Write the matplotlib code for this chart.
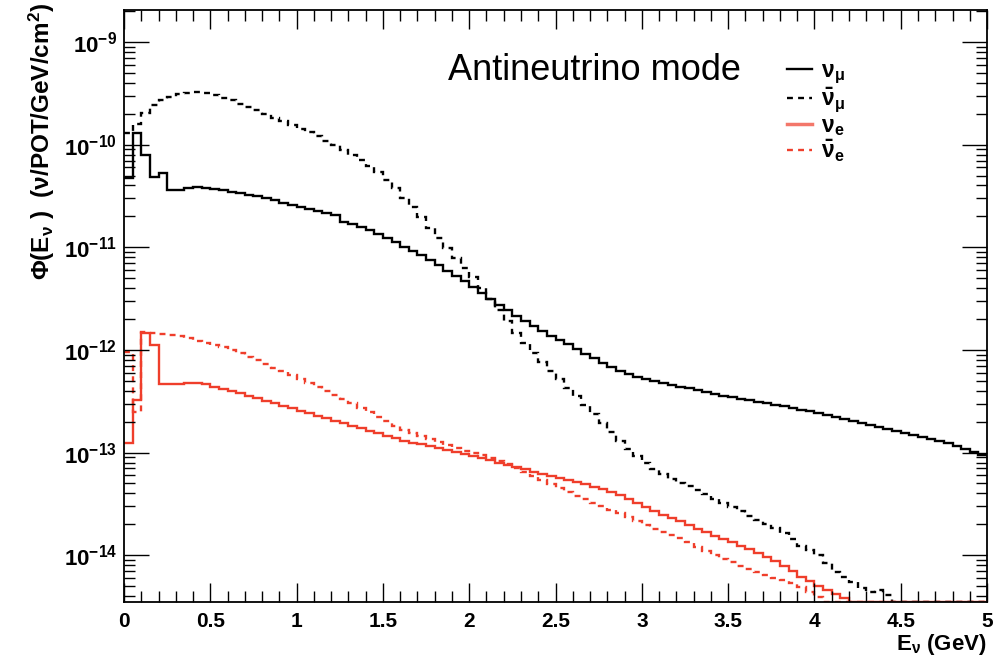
import numpy as np
import matplotlib
matplotlib.use("Agg")
import matplotlib.pyplot as plt
from matplotlib.lines import Line2D
from matplotlib.ticker import MultipleLocator, FixedLocator, FuncFormatter, NullFormatter

plt.rcParams['font.family'] = ['Liberation Sans', 'DejaVu Sans']
plt.rcParams['mathtext.fontset'] = 'custom'
plt.rcParams['mathtext.rm'] = 'Liberation Sans'
plt.rcParams['mathtext.it'] = 'Liberation Sans:italic'
plt.rcParams['mathtext.bf'] = 'Liberation Sans:bold'

# flux per 0.05 GeV bin, 0..5 GeV  (nu / POT / GeV / cm^2)
bin_width = 0.05

numu = [4.72e-11, 1.30e-10, 7.92e-11, 4.83e-11, 5.28e-11, 3.61e-11, 3.61e-11, 3.78e-11, 3.86e-11, 3.78e-11,
        3.69e-11, 3.61e-11, 3.45e-11, 3.38e-11, 3.23e-11, 3.16e-11, 3.02e-11, 2.88e-11, 2.70e-11, 2.58e-11,
        2.47e-11, 2.36e-11, 2.25e-11, 2.15e-11, 2.06e-11, 1.76e-11, 1.68e-11, 1.57e-11, 1.47e-11, 1.35e-11,
        1.23e-11, 1.12e-11, 1.00e-11, 9.18e-12, 8.39e-12, 7.50e-12, 6.71e-12, 5.86e-12, 5.24e-12, 4.68e-12,
        4.09e-12, 3.58e-12, 3.13e-12, 2.73e-12, 2.44e-12, 2.13e-12, 1.91e-12, 1.71e-12, 1.52e-12, 1.36e-12,
        1.25e-12, 1.14e-12, 1.02e-12, 9.10e-13, 8.32e-13, 7.43e-13, 6.80e-13, 6.21e-13, 5.81e-13, 5.43e-13,
        5.19e-13, 4.97e-13, 4.75e-13, 4.54e-13, 4.34e-13, 4.24e-13, 4.06e-13, 3.88e-13, 3.71e-13, 3.55e-13,
        3.47e-13, 3.32e-13, 3.24e-13, 3.10e-13, 3.03e-13, 2.90e-13, 2.83e-13, 2.71e-13, 2.59e-13, 2.53e-13,
        2.42e-13, 2.31e-13, 2.21e-13, 2.12e-13, 2.02e-13, 1.93e-13, 1.85e-13, 1.77e-13, 1.69e-13, 1.62e-13,
        1.55e-13, 1.48e-13, 1.41e-13, 1.35e-13, 1.29e-13, 1.23e-13, 1.15e-13, 1.08e-13, 1.01e-13, 9.43e-14]

numubar = [1.30e-10, 1.59e-10, 2.03e-10, 2.43e-10, 2.72e-10, 2.91e-10, 3.11e-10, 3.18e-10, 3.26e-10, 3.18e-10,
           3.04e-10, 2.85e-10, 2.72e-10, 2.49e-10, 2.33e-10, 2.17e-10, 1.99e-10, 1.82e-10, 1.70e-10, 1.55e-10,
           1.42e-10, 1.33e-10, 1.21e-10, 1.08e-10, 9.91e-11, 8.86e-11, 7.92e-11, 7.08e-11, 6.19e-11, 5.41e-11,
           4.52e-11, 3.78e-11, 3.02e-11, 2.47e-11, 1.97e-11, 1.54e-11, 1.23e-11, 9.82e-12, 7.85e-12, 6.27e-12,
           5.13e-12, 4.00e-12, 3.13e-12, 2.44e-12, 1.91e-12, 1.46e-12, 1.16e-12, 9.31e-13, 7.60e-13, 6.21e-13,
           5.19e-13, 4.24e-13, 3.55e-13, 2.90e-13, 2.37e-13, 1.93e-13, 1.58e-13, 1.29e-13, 1.08e-13, 9.22e-14,
           7.88e-14, 6.89e-14, 6.16e-14, 5.51e-14, 5.03e-14, 4.70e-14, 4.30e-14, 3.93e-14, 3.51e-14, 3.21e-14,
           2.94e-14, 2.68e-14, 2.40e-14, 2.19e-14, 2.00e-14, 1.83e-14, 1.64e-14, 1.43e-14, 1.22e-14, 1.12e-14,
           1.00e-14, 8.36e-15, 6.83e-15, 6.11e-15, 5.46e-15, 4.77e-15, 4.36e-15, 4.56e-15, 4.08e-15, 0,
           0, 0, 0, 0, 0, 0, 0, 0, 0, 0]

nue = [1.23e-13, 3.24e-13, 1.46e-12, 1.11e-12, 4.64e-13, 4.64e-13, 4.64e-13, 4.75e-13, 4.75e-13, 4.64e-13,
       4.34e-13, 4.15e-13, 3.97e-13, 3.79e-13, 3.55e-13, 3.39e-13, 3.17e-13, 3.03e-13, 2.83e-13, 2.71e-13,
       2.53e-13, 2.42e-13, 2.26e-13, 2.16e-13, 2.02e-13, 1.93e-13, 1.81e-13, 1.73e-13, 1.62e-13, 1.55e-13,
       1.44e-13, 1.38e-13, 1.29e-13, 1.23e-13, 1.21e-13, 1.15e-13, 1.10e-13, 1.06e-13, 1.01e-13, 9.65e-14,
       9.22e-14, 8.82e-14, 8.43e-14, 7.88e-14, 7.54e-14, 7.21e-14, 6.89e-14, 6.44e-14, 6.16e-14, 5.89e-14,
       5.63e-14, 5.38e-14, 5.15e-14, 4.92e-14, 4.60e-14, 4.40e-14, 4.11e-14, 3.84e-14, 3.51e-14, 3.21e-14,
       2.94e-14, 2.68e-14, 2.45e-14, 2.29e-14, 2.14e-14, 1.96e-14, 1.79e-14, 1.68e-14, 1.53e-14, 1.43e-14,
       1.34e-14, 1.22e-14, 1.14e-14, 1.05e-14, 9.56e-15, 8.74e-15, 7.81e-15, 6.98e-15, 6.11e-15, 5.58e-15,
       4.99e-15, 4.56e-15, 4.17e-15, 3.81e-15, 0, 0, 0, 0, 0, 0,
       0, 0, 0, 0, 0, 0, 0, 0, 0, 0]

nuebar = [9.52e-13, 2.48e-13, 1.49e-12, 1.46e-12, 1.43e-12, 1.39e-12, 1.36e-12, 1.30e-12, 1.22e-12, 1.16e-12,
          1.11e-12, 1.06e-12, 9.96e-13, 9.31e-13, 8.51e-13, 7.95e-13, 7.27e-13, 6.65e-13, 6.21e-13, 5.68e-13,
          5.19e-13, 4.75e-13, 4.34e-13, 3.97e-13, 3.63e-13, 3.32e-13, 3.03e-13, 2.71e-13, 2.48e-13, 2.21e-13,
          2.02e-13, 1.81e-13, 1.65e-13, 1.55e-13, 1.44e-13, 1.35e-13, 1.26e-13, 1.18e-13, 1.10e-13, 1.03e-13,
          9.87e-14, 9.43e-14, 8.82e-14, 8.25e-14, 7.71e-14, 7.05e-14, 6.44e-14, 5.89e-14, 5.38e-14, 4.92e-14,
          4.50e-14, 4.11e-14, 3.76e-14, 3.51e-14, 3.21e-14, 3.00e-14, 2.74e-14, 2.57e-14, 2.35e-14, 2.14e-14,
          1.96e-14, 1.79e-14, 1.68e-14, 1.57e-14, 1.46e-14, 1.34e-14, 1.20e-14, 1.09e-14, 1.00e-14, 9.14e-15,
          8.55e-15, 7.81e-15, 7.30e-15, 6.83e-15, 6.38e-15, 5.97e-15, 5.71e-15, 5.34e-15, 4.88e-15, 4.36e-15,
          3.90e-15, 0, 0, 0, 0, 0, 0, 0, 0, 0,
          0, 0, 0, 0, 0, 0, 0, 0, 0, 0]

labels = [r'$\mathbf{\nu_{\mu}}$', r'$\mathbf{\bar{\nu}_{\mu}}$',
          r'$\mathbf{\nu_{e}}$', r'$\mathbf{\bar{\nu}_{e}}$']

ymin, ymax = 3.5e-15, 2.05e-9
red = '#ef3e2b'

fig = plt.figure(figsize=(10.04, 6.68), dpi=100)
ax = fig.add_axes([0.1235, 0.0988, 0.8596, 0.8862])

edges = np.arange(len(numu) + 1) * bin_width


def draw(vals, color, ls):
    v = np.asarray(vals, dtype=float)
    v = np.where(v > 0, v, ymin)   # empty bins sit on the frame, like ROOT
    ax.stairs(v, edges, baseline=None, color=color, lw=1.7, linestyle=ls)


dash = (0, (2.5, 2.2))
draw(numubar, 'black', dash)
draw(numu, 'black', '-')
draw(nuebar, red, dash)
draw(nue, red, '-')

ax.set_yscale('log')
ax.set_xlim(0, 5)
ax.set_ylim(ymin, ymax)

major_y = [10.0 ** e for e in range(-14, -8)]
minor_y = [m * 10.0 ** e for e in range(-15, -8) for m in range(2, 10)]
minor_y = [v for v in minor_y if ymin <= v <= ymax]

ax.xaxis.set_major_locator(MultipleLocator(0.5))
ax.xaxis.set_minor_locator(MultipleLocator(0.1))
ax.xaxis.set_major_formatter(FuncFormatter(lambda x, p: f'{x:g}'))
ax.yaxis.set_major_locator(FixedLocator(major_y))
ax.yaxis.set_minor_locator(FixedLocator(minor_y))
ax.yaxis.set_major_formatter(FuncFormatter(lambda y, p: r'$\mathbf{10^{%d}}$' % round(np.log10(y))))
ax.yaxis.set_minor_formatter(NullFormatter())

ax.tick_params(axis='both', which='both', direction='in', top=True, right=True, width=1.0)
ax.tick_params(axis='x', which='major', length=14, pad=7, labelsize=15)
ax.tick_params(axis='x', which='minor', length=8)
ax.tick_params(axis='y', which='major', length=18, pad=5, labelsize=16)
ax.tick_params(axis='y', which='minor', length=8)
for lab in ax.get_xticklabels():
    lab.set_fontweight('bold')
for s in ax.spines.values():
    s.set_linewidth(1.3)

fig.text(0.042, 0.995, r'$\mathbf{\Phi(E_{\nu}\ )\ \ (\nu/POT/GeV/cm^{2})}$',
         rotation=90, ha='center', va='top', fontsize=17.5)
fig.text(0.983, 0.035, r'$\mathbf{E_{\nu}}$ (GeV)', ha='right', va='center',
         fontsize=16, fontweight='bold')

ax.text(0.375, 0.898, 'Antineutrino mode', transform=ax.transAxes,
        fontsize=26, va='center')

handles = [Line2D([], [], color='black', lw=1.7),
           Line2D([], [], color='black', lw=1.7, linestyle=dash),
           Line2D([], [], color=red, lw=2.5, alpha=0.7),
           Line2D([], [], color=red, lw=1.7, linestyle=dash)]
ax.legend(handles, labels, loc='upper left', bbox_to_anchor=(0.744, 0.952),
          frameon=False, fontsize=16.5, handlelength=1.1, handletextpad=0.4,
          labelspacing=0.0)

fig.savefig('out.png', dpi=100)
